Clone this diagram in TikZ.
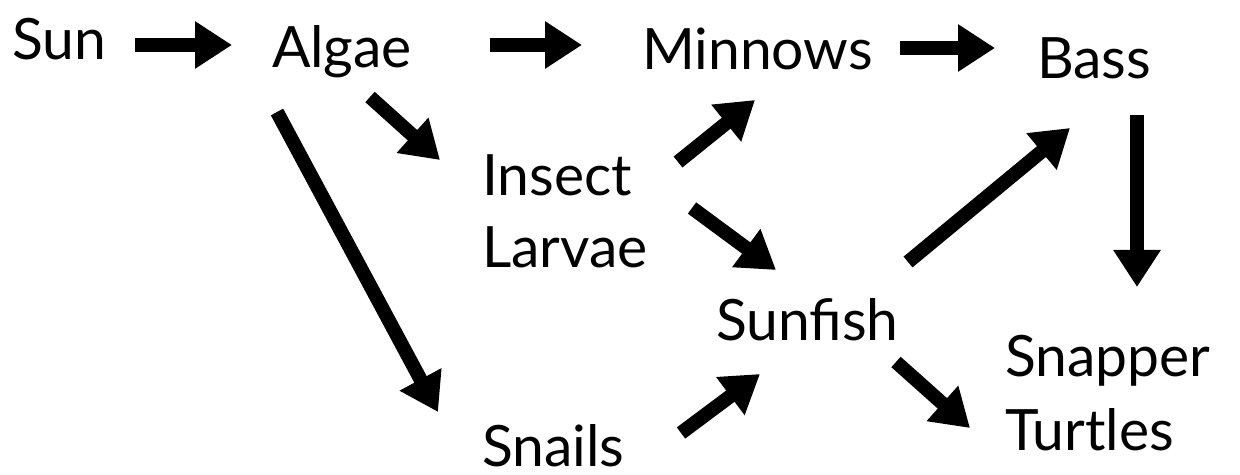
\documentclass[tikz,border=0pt]{standalone}
\usepackage{fontspec}
\setmainfont{Lato}
\usetikzlibrary{arrows.meta,calc}
\begin{document}
\begin{tikzpicture}[x=0.5pt,y=-0.5pt,
  lbl/.style={inner sep=0pt,outer sep=0pt,font=\fontsize{28.5}{36}\selectfont,align=left},
  arr/.style={line width=7pt,-{Triangle[length=18.5pt,width=22.5pt]}}]
\useasboundingbox (0,0) rectangle (1240,475);
\node[lbl,anchor=base west] (sun) at (12,60) {Sun};
\node[lbl,anchor=base west] (algae) at (272,68) {Algae};
\node[lbl,anchor=base west] (minnows) at (642,70) {Minnows};
\node[lbl,anchor=base west] (bass) at (1037,79) {Bass};
\node[lbl,anchor=north west] (insect) at (482,155) {Insect\\Larvae};
\node[lbl,anchor=base west] (sunfish) at (716,340) {Sunfish};
\node[lbl,anchor=north west,font=\fontsize{28.5}{37}\selectfont] (snapper) at (1005,335) {Snapper\\Turtles};
\node[lbl,anchor=base west] (snails) at (482,466) {Snails};
\draw[arr] ($(sun.base west)+(123,-15)$) -- ($(algae.base west)+(-40,-23)$);
\draw[arr] ($(algae.base west)+(218,-23)$) -- ($(minnows.base west)+(-60,-25)$);
\draw[arr] ($(minnows.base west)+(258,-22)$) -- ($(bass.base west)+(-42,-31)$);
\draw[arr] ($(algae.base west)+(98,29)$) -- ($(insect.north west)+(-42,5)$);
\draw[arr] ($(algae.base west)+(5,44)$) -- ($(snails.base west)+(-44,-54)$);
\draw[arr] ($(insect.north west)+(196,7)$) -- ($(minnows.base west)+(113,30)$);
\draw[arr] ($(insect.north west)+(210,53)$) -- ($(sunfish.base west)+(60,-70)$);
\draw[arr] ($(snails.base west)+(199,-33)$) -- ($(sunfish.base west)+(44,34)$);
\draw[arr] ($(sunfish.base west)+(192,-78)$) -- ($(bass.base west)+(33,49)$);
\draw[arr] ($(sunfish.base west)+(180,22)$) -- ($(snapper.north west)+(-35,93)$);
\draw[arr] ($(bass.base west)+(100,36)$) -- ($(snapper.north west)+(132,-48)$);
\end{tikzpicture}
\end{document}
